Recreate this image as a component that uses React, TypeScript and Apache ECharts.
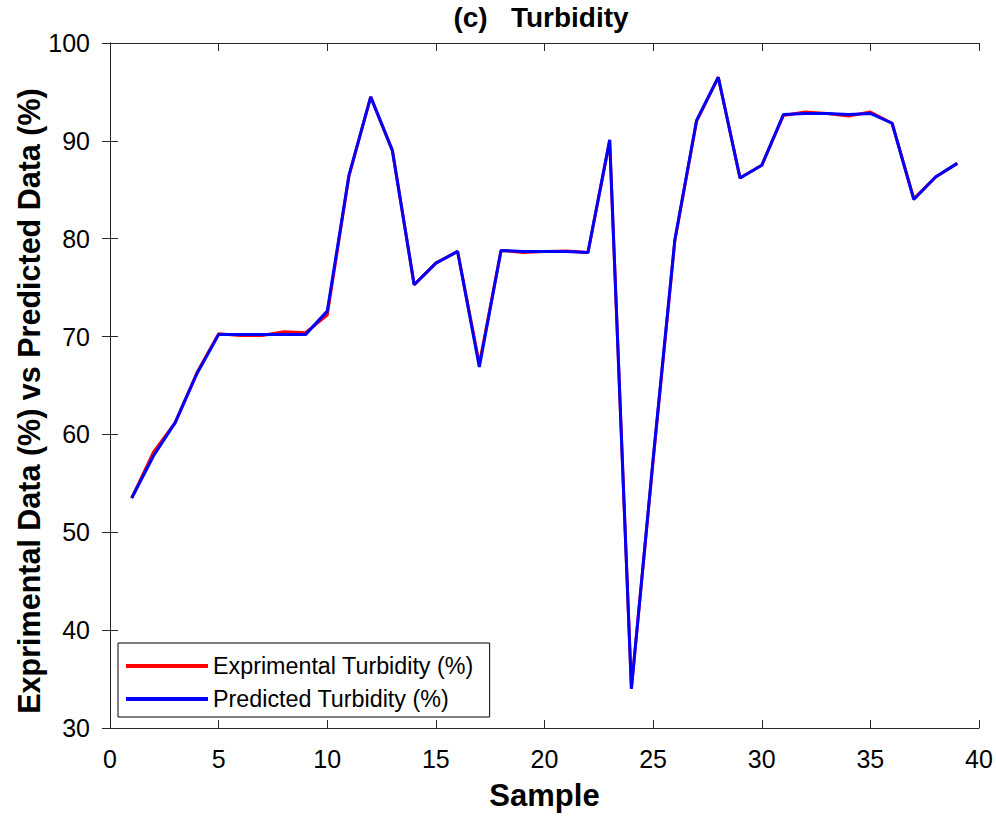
import React, { useEffect, useRef } from "react";
import * as echarts from "echarts";

const samples = [1,2,3,4,5,6,7,8,9,10,11,12,13,14,15,16,17,18,19,20,21,22,23,24,25,26,27,28,29,30,31,32,33,34,35,36,37,38,39];
const experimental = [53.5,58.2,61.2,66.3,70.3,70.1,70.1,70.5,70.4,72.2,86.4,94.5,89.0,75.3,77.5,78.7,67.2,78.8,78.6,78.7,78.75,78.6,90.0,34.1,57.3,79.8,92.0,96.5,86.2,87.5,92.6,92.95,92.8,92.55,92.95,91.8,84.1,86.3,87.7];
const predicted = [53.5,57.8,61.2,66.2,70.2,70.2,70.2,70.2,70.2,72.6,86.5,94.5,89.0,75.3,77.5,78.7,66.9,78.8,78.7,78.7,78.7,78.6,90.1,34.0,57.5,79.9,92.1,96.5,86.2,87.5,92.7,92.8,92.8,92.7,92.8,91.8,84.0,86.3,87.7];

const titleText = "(c)   Turbidity";
const xName = "Sample";
const yName = "Exprimental Data (%) vs Predicted Data (%)";
const expName = "Exprimental Turbidity (%)";
const predName = "Predicted Turbidity (%)";

const FONT = "'Liberation Sans', Arial, Helvetica, sans-serif";
const AX = "#262626";

export default function App() {
  const ref = useRef<HTMLDivElement>(null);
  useEffect(() => {
    if (!ref.current) return;
    const chart = echarts.init(ref.current, null, { renderer: "svg" });
    const axisCommon = {
      axisLine: { show: true, lineStyle: { color: AX, width: 1 } },
      axisTick: { show: true, inside: true, length: 8, lineStyle: { color: AX, width: 1 } },
      splitLine: { show: false },
    };
    chart.setOption({
      animation: false,
      backgroundColor: "#ffffff",
      textStyle: { fontFamily: FONT },
      grid: { left: 110, right: 17, top: 43, bottom: 90, containLabel: false },
      graphic: [
        {
          type: "text",
          x: 541,
          y: 3,
          style: {
            text: titleText,
            textAlign: "center",
            textVerticalAlign: "top",
            fontFamily: FONT,
            fontWeight: "bold",
            fontSize: 28,
            fill: "#000",
          },
        },
        {
          type: "text",
          x: 29,
          y: 401,
          rotation: Math.PI / 2,
          style: {
            text: yName,
            textAlign: "center",
            textVerticalAlign: "middle",
            fontFamily: FONT,
            fontWeight: "bold",
            fontSize: 30.5,
            fill: "#000",
          },
        },
      ],
      legend: {
        show: true,
        orient: "vertical",
        left: 118,
        top: 643,
        backgroundColor: "#ffffff",
        borderColor: "#000000",
        borderWidth: 1,
        borderRadius: 0,
        padding: [10, 16, 5, 8],
        itemGap: 7,
        itemWidth: 82,
        itemHeight: 4,
        icon: "rect",
        textStyle: { fontFamily: FONT, fontSize: 23.3, color: "#000", lineHeight: 26 },
        data: [expName, predName],
      },
      xAxis: [
        {
          type: "value",
          min: 0,
          max: 40,
          interval: 5,
          name: xName,
          nameLocation: "middle",
          nameGap: 52,
          nameTextStyle: { fontFamily: FONT, fontWeight: "bold", fontSize: 31, color: "#000" },
          axisLabel: { fontFamily: FONT, fontSize: 25, color: "#000", margin: 18 },
          ...axisCommon,
        },
        {
          type: "value",
          position: "top",
          min: 0,
          max: 40,
          interval: 5,
          axisLabel: { show: false },
          ...axisCommon,
        },
      ],
      yAxis: [
        {
          type: "value",
          min: 30,
          max: 100,
          interval: 10,
          axisLabel: { fontFamily: FONT, fontSize: 25, color: "#000", margin: 20 },
          ...axisCommon,
        },
        {
          type: "value",
          position: "right",
          min: 30,
          max: 100,
          interval: 10,
          axisLabel: { show: false },
          ...axisCommon,
        },
      ],
      series: [
        {
          name: expName,
          type: "line",
          xAxisIndex: 0,
          yAxisIndex: 0,
          data: samples.map((s, i) => [s, experimental[i]]),
          showSymbol: false,
          symbol: "none",
          lineStyle: { color: "#ff0000", width: 3 },
          itemStyle: { color: "#ff0000" },
          z: 2,
        },
        {
          name: predName,
          type: "line",
          xAxisIndex: 0,
          yAxisIndex: 0,
          data: samples.map((s, i) => [s, predicted[i]]),
          showSymbol: false,
          symbol: "none",
          lineStyle: { color: "#0000ff", width: 3 },
          itemStyle: { color: "#0000ff" },
          z: 3,
        },
      ],
    });
    return () => chart.dispose();
  }, []);
  return (
    <div
      ref={ref}
      style={{ position: "fixed", left: 0, top: 0, width: 996, height: 818, background: "#fff" }}
    />
  );
}
